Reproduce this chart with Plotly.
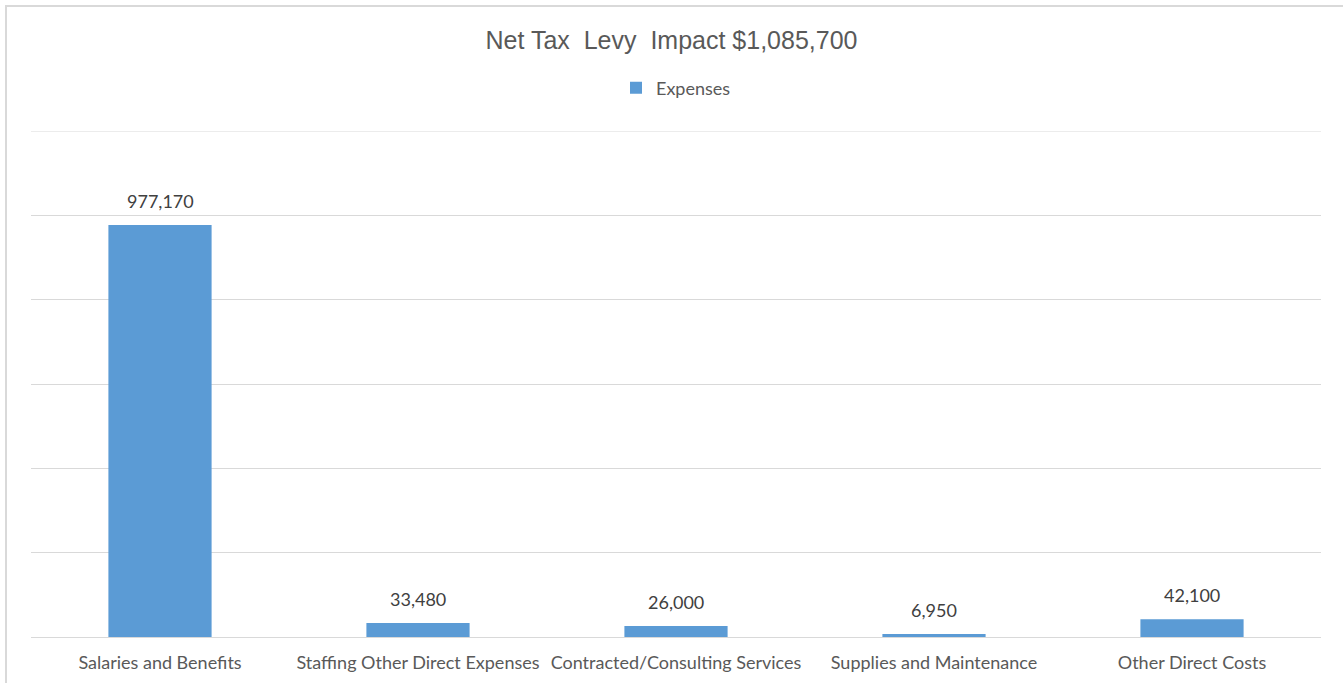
import plotly.graph_objects as go

categories = ["Salaries and Benefits", "Staffing Other Direct Expenses",
              "Contracted/Consulting Services", "Supplies and Maintenance",
              "Other Direct Costs"]
expenses = [977170, 33480, 26000, 6950, 42100]
labels = ["977,170", "33,480", "26,000", "6,950", "42,100"]

W, H = 1343, 683
L, R, T, B = 31, 22, 131, 46
pw, ph = W - L - R, H - T - B

FONT = "Lato, Open Sans, sans-serif"

fig = go.Figure()
fig.add_trace(go.Bar(
    x=categories, y=expenses, name="Expenses",
    marker=dict(color="#5b9bd5", line=dict(width=0)),
    width=0.4,
))

for c, v, t in zip(categories, expenses, labels):
    fig.add_annotation(x=c, y=v, text=t, showarrow=False, xref="x", yref="y",
                       yanchor="bottom", yshift=11,
                       font=dict(family=FONT, size=18, color="#404040"))

def px_x(p):
    return (p - L) / pw

def px_y(p):
    return (H - B - p) / ph

fig.update_layout(
    width=W, height=H,
    margin=dict(l=L, r=R, t=T, b=B, autoexpand=False),
    paper_bgcolor="white", plot_bgcolor="white",
    title=dict(text="Net Tax  Levy  Impact $1,085,700", x=0.5, xanchor="center",
               y=1 - 40 / H, yanchor="middle",
               font=dict(family="Liberation Sans, Arial, sans-serif", size=25, color="#595959")),
    showlegend=True,
    legend=dict(orientation="h", x=0.5, xanchor="center", y=px_y(88), yanchor="middle",
                xref="paper", yref="paper",
                font=dict(family=FONT, size=18, color="#595959"),
                itemwidth=30),
    xaxis=dict(showgrid=False, showline=False, ticks="", automargin=False,
               tickfont=dict(family=FONT, size=18, color="#595959"),
               ticklabelstandoff=13),
    yaxis=dict(range=[0, 1200000], dtick=200000, showgrid=True, gridcolor="#d9d9d9",
               gridwidth=1, showticklabels=False, zeroline=True, zerolinecolor="#d9d9d9",
               zerolinewidth=1, showline=False, automargin=False),
    bargap=0.6,
    shapes=[dict(type="rect", xref="paper", yref="paper",
                 x0=px_x(6), x1=px_x(1360), y0=px_y(700), y1=px_y(6),
                 line=dict(color="#d9d9d9", width=2), fillcolor="rgba(0,0,0,0)", layer="below"),
            dict(type="line", xref="paper", yref="y", x0=0, x1=1, y0=1200000, y1=1200000,
                 line=dict(color="#d9d9d9", width=1), layer="below")],
)

fig.write_html("out.html", config={"displayModeBar": False},
               post_script="document.body.style.margin='0';document.body.style.overflow='hidden';")
